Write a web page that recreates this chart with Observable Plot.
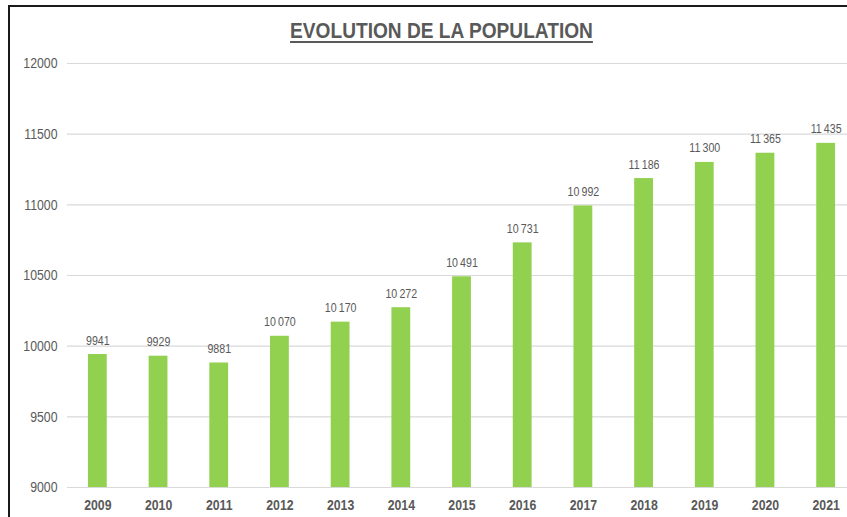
<!DOCTYPE html>
<html>
<head>
<meta charset="utf-8">
<script src="https://cdn.jsdelivr.net/npm/d3@7"></script>
<script src="https://cdn.jsdelivr.net/npm/@observablehq/plot@0.6"></script>
<style>
  html, body { margin: 0; padding: 0; background: #fff; overflow: hidden; width: 847px; height: 517px; }
  #frame { position: absolute; left: 8px; top: 5px; width: 900px; height: 600px;
           border-top: 2px solid #1a1a1a; border-left: 2px solid #1a1a1a; }
  #title { position: absolute; left: 0; top: 19px; width: 883px; text-align: center;
           font-family: "Liberation Sans", Arial, sans-serif;
           font-weight: bold; font-size: 22.5px; line-height: 23px; color: #595959;
           transform: scaleX(0.85); transform-origin: 441.5px 0; }
  #title span { text-decoration: underline; text-decoration-thickness: 2px; text-underline-offset: 3px; }
  #chart { position: absolute; left: 0; top: 50px; width: 860px; }
  #chart svg { max-width: none !important; }
</style>
</head>
<body>
<div id="frame"></div>
<div id="title"><span>EVOLUTION DE LA POPULATION</span></div>
<div id="chart"></div>
<script>
const years = ["2009","2010","2011","2012","2013","2014","2015","2016","2017","2018","2019","2020","2021"];
const population = [9941, 9929, 9881, 10070, 10170, 10272, 10491, 10731, 10992, 11186, 11300, 11365, 11435];
const yTicks = [9000, 9500, 10000, 10500, 11000, 11500, 12000];

const data = years.map((y, i) => ({year: y, pop: population[i]}));
const fmt = v => v >= 10000 ? d3.format(",")(v).replace(",", "\u2009") : String(v);
const font = '"Liberation Sans", Arial, sans-serif';

const chart = Plot.plot({
  width: 860,
  height: 467,
  marginLeft: 67,
  marginRight: 4,
  marginTop: 13,
  marginBottom: 30,
  style: {fontFamily: font, color: "#595959", background: "transparent", overflow: "visible", maxWidth: "none"},
  x: {domain: years, paddingInner: 0.69, paddingOuter: 0.345, round: false, label: null},
  y: {domain: [9000, 12000], label: null},
  marks: [
    Plot.ruleY(yTicks, {stroke: "#d9d9d9", strokeWidth: 1.2}),
    Plot.barY(data, {x: "year", y: "pop", fill: "#92D050", clip: true}),
    Plot.text(data, {x: "year", y: "pop", text: d => fmt(d.pop), dy: -10, lineAnchor: "bottom",
      fill: "#595959", fontSize: 13, fontFamily: font}),
    Plot.axisY({ticks: yTicks, tickSize: 0, tickPadding: 10, tickFormat: d => String(d),
      fontSize: 15, fill: "#595959", label: null}),
    Plot.axisX({tickSize: 0, tickPadding: 12, fontSize: 15, fontWeight: "bold", fill: "#595959", label: null})
  ]
});
// narrow the glyphs horizontally (Arial Narrow look); keep vertical offsets untouched
chart.querySelectorAll("text").forEach(t => {
  const xa = t.getAttribute("x");
  const x = xa && !/em$/.test(xa) ? +xa : 0;
  const tr = t.getAttribute("transform") || "";
  t.setAttribute("transform", `${tr} translate(${x},0) scale(0.82,1)`);
  if (xa && !/em$/.test(xa)) t.removeAttribute("x");
});
document.getElementById("chart").appendChild(chart);
</script>
</body>
</html>
